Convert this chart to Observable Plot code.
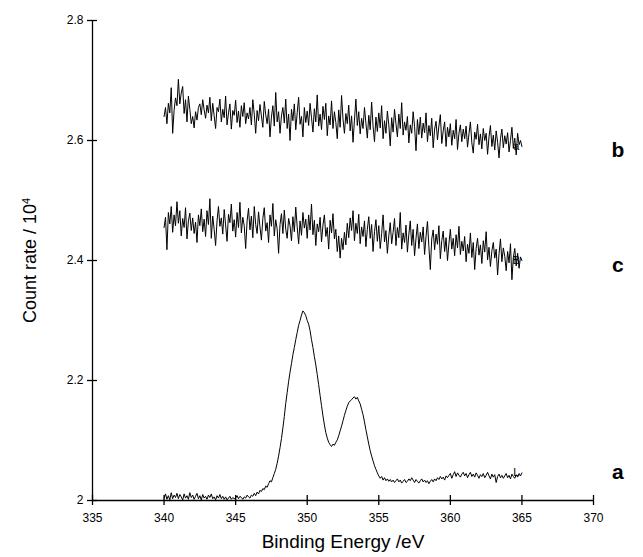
<!DOCTYPE html>
<html>
<head>
<meta charset="utf-8">
<script src="https://cdn.jsdelivr.net/npm/d3@7"></script>
<script src="https://cdn.jsdelivr.net/npm/@observablehq/plot@0.6"></script>
<style>
  html, body { margin: 0; padding: 0; background: #fff; }
</style>
</head>
<body>
<div id="chart"></div>
<script>
// Binding energy grid (eV): 340.0 to 365.0 in 0.1 eV steps
const energyStart = 340;
const energyStep = 0.1;

// Series a (count rate / 10^4)
const seriesA = [
  2.004, 2.011, 2.002, 2.008, 2.001, 2.013, 2.003, 2.009, 2.005, 2.012,
  2.003, 2.010, 2.006, 2.001, 2.011, 2.004, 2.008, 2.002, 2.013, 2.005,
  2.009, 2.002, 2.007, 2.012, 2.003, 2.008, 2.001, 2.010, 2.004, 2.007,
  2.002, 2.009, 2.005, 2.011, 2.003, 2.006, 2.001, 2.008, 2.004, 2.010,
  2.003, 2.007, 2.002, 2.006, 2.001, 2.004, 2.007, 2.002, 2.005, 2.003,
  2.004, 2.008, 2.003, 2.007, 2.005, 2.002, 2.006, 2.004, 2.009, 2.006,
  2.004, 2.009, 2.007, 2.012, 2.008, 2.014, 2.011, 2.017, 2.015, 2.020,
  2.018, 2.024, 2.022, 2.028, 2.033, 2.031, 2.038, 2.045, 2.052, 2.062,
  2.074, 2.088, 2.103, 2.121, 2.140, 2.162, 2.180, 2.198, 2.214, 2.228,
  2.243, 2.255, 2.268, 2.280, 2.292, 2.300, 2.309, 2.316, 2.313, 2.308,
  2.300, 2.294, 2.283, 2.268, 2.255, 2.240, 2.226, 2.210, 2.193, 2.175,
  2.158, 2.141, 2.126, 2.113, 2.104, 2.097, 2.093, 2.090, 2.094, 2.092,
  2.097, 2.101, 2.108, 2.116, 2.124, 2.133, 2.142, 2.150, 2.157, 2.163,
  2.166, 2.168, 2.171, 2.173, 2.169, 2.172, 2.166, 2.161, 2.152, 2.143,
  2.131, 2.118, 2.106, 2.094, 2.083, 2.074, 2.066, 2.058, 2.052, 2.046,
  2.041, 2.037, 2.040, 2.034, 2.038, 2.033, 2.036, 2.032, 2.035, 2.031,
  2.034, 2.030, 2.033, 2.036, 2.031, 2.034, 2.029, 2.032, 2.035, 2.030,
  2.032, 2.036, 2.033, 2.038, 2.034, 2.030, 2.035, 2.032, 2.029, 2.033,
  2.036, 2.031, 2.034, 2.030, 2.033, 2.028, 2.032, 2.035, 2.031, 2.036,
  2.033, 2.038, 2.035, 2.040, 2.036, 2.039, 2.034, 2.041, 2.038, 2.042,
  2.045, 2.037, 2.043, 2.048, 2.040, 2.046, 2.042, 2.039, 2.044, 2.047,
  2.041, 2.045, 2.038, 2.043, 2.047, 2.040, 2.044, 2.039, 2.046, 2.042,
  2.037, 2.043, 2.040, 2.045, 2.038, 2.042, 2.047, 2.041, 2.036, 2.044,
  2.039, 2.043, 2.030, 2.040, 2.044, 2.038, 2.042, 2.037, 2.041, 2.045,
  2.038, 2.042, 2.036, 2.044, 2.040, 2.037, 2.043, 2.039, 2.045, 2.041,
  2.046
];

// Series b
const seriesB = [
  2.640, 2.655, 2.628, 2.662, 2.646, 2.688, 2.612, 2.650, 2.671, 2.658,
  2.702, 2.661, 2.679, 2.690, 2.645, 2.668, 2.631, 2.674, 2.652, 2.628,
  2.640, 2.621, 2.648, 2.634, 2.655, 2.661, 2.643, 2.668, 2.651, 2.637,
  2.659, 2.646, 2.672, 2.633, 2.662, 2.641, 2.620, 2.655, 2.648, 2.669,
  2.631, 2.652, 2.638, 2.674, 2.626, 2.646, 2.661, 2.619, 2.650, 2.642,
  2.667, 2.630, 2.649, 2.622, 2.658, 2.640, 2.663, 2.628, 2.646, 2.636,
  2.655, 2.626, 2.668, 2.644, 2.612, 2.650, 2.633, 2.660, 2.641, 2.622,
  2.665, 2.643, 2.628, 2.652, 2.606, 2.639, 2.658, 2.624, 2.680, 2.631,
  2.648, 2.612, 2.641, 2.655, 2.629, 2.669, 2.620, 2.644, 2.600, 2.652,
  2.633, 2.661, 2.618, 2.646, 2.672, 2.627, 2.640, 2.606, 2.655, 2.630,
  2.649, 2.625, 2.662, 2.638, 2.614, 2.653, 2.631, 2.676, 2.624, 2.644,
  2.618, 2.657, 2.635, 2.662, 2.608, 2.641, 2.626, 2.666, 2.620, 2.648,
  2.630, 2.603, 2.651, 2.622, 2.675, 2.636, 2.612, 2.645, 2.628, 2.659,
  2.616, 2.641, 2.597, 2.634, 2.669, 2.625, 2.648, 2.611, 2.637, 2.620,
  2.655, 2.629, 2.604, 2.642, 2.618, 2.664, 2.624, 2.598, 2.639, 2.615,
  2.646, 2.621, 2.658, 2.603, 2.633, 2.612, 2.649, 2.626, 2.591, 2.638,
  2.614, 2.652, 2.628, 2.606, 2.644, 2.620, 2.663, 2.609, 2.631, 2.617,
  2.640, 2.596, 2.626, 2.612, 2.648, 2.623, 2.583, 2.635, 2.610, 2.639,
  2.604, 2.629, 2.613, 2.646, 2.598, 2.625, 2.608, 2.637, 2.588, 2.619,
  2.632, 2.601, 2.624, 2.643, 2.595, 2.616, 2.631, 2.590, 2.622, 2.606,
  2.628, 2.592, 2.617, 2.603, 2.635, 2.585, 2.612, 2.626, 2.598, 2.619,
  2.603, 2.624, 2.589, 2.611, 2.631, 2.596, 2.579, 2.614, 2.602, 2.627,
  2.593, 2.611, 2.586, 2.620, 2.600, 2.612, 2.577, 2.606, 2.625, 2.590,
  2.609, 2.584, 2.616, 2.597, 2.571, 2.603, 2.619, 2.588, 2.608, 2.594,
  2.613, 2.581, 2.600, 2.622, 2.587, 2.604, 2.576, 2.612, 2.593, 2.600,
  2.590
];

// Series c
const seriesC = [
  2.455, 2.472, 2.418, 2.480, 2.461, 2.490, 2.447, 2.476, 2.458, 2.498,
  2.462, 2.483, 2.441, 2.470, 2.455, 2.488, 2.436, 2.466, 2.479, 2.450,
  2.471, 2.445, 2.464, 2.430, 2.476, 2.458, 2.486, 2.448, 2.469, 2.440,
  2.483, 2.460, 2.503, 2.437, 2.474, 2.452, 2.425, 2.466, 2.490, 2.457,
  2.471, 2.444, 2.485, 2.459, 2.432, 2.477, 2.463, 2.494, 2.449, 2.468,
  2.439, 2.480, 2.455, 2.497, 2.446, 2.472, 2.458, 2.420, 2.466, 2.487,
  2.451, 2.474, 2.438, 2.490, 2.460, 2.445, 2.481, 2.456, 2.434, 2.470,
  2.488, 2.449, 2.463, 2.430, 2.476, 2.457, 2.495, 2.441, 2.468, 2.453,
  2.412, 2.460, 2.478, 2.445, 2.484, 2.452, 2.437, 2.470, 2.458, 2.433,
  2.473, 2.448, 2.489, 2.456, 2.428, 2.466, 2.442, 2.480, 2.454, 2.469,
  2.437, 2.476, 2.451, 2.494, 2.443, 2.467, 2.425, 2.461, 2.448, 2.472,
  2.431, 2.459, 2.476, 2.440, 2.455, 2.419, 2.467, 2.446, 2.478, 2.436,
  2.452, 2.415, 2.441, 2.404, 2.437, 2.418, 2.447, 2.426, 2.462, 2.438,
  2.471, 2.450, 2.483, 2.433, 2.462, 2.445, 2.477, 2.428, 2.456, 2.440,
  2.466, 2.423, 2.452, 2.473, 2.437, 2.460, 2.415, 2.448, 2.468, 2.432,
  2.458, 2.420, 2.445, 2.476, 2.431, 2.450, 2.412, 2.441, 2.463, 2.428,
  2.447, 2.470, 2.425, 2.455, 2.438, 2.480, 2.419, 2.446, 2.430, 2.459,
  2.414, 2.444, 2.466, 2.425, 2.452, 2.408, 2.437, 2.461, 2.420, 2.447,
  2.431, 2.456, 2.410, 2.440, 2.465, 2.423, 2.385, 2.436, 2.451, 2.418,
  2.444, 2.427, 2.458, 2.403, 2.433, 2.449, 2.415, 2.438, 2.400, 2.428,
  2.452, 2.419, 2.437, 2.408, 2.443, 2.421, 2.457, 2.410, 2.432, 2.416,
  2.440, 2.398, 2.427, 2.412, 2.446, 2.405, 2.430, 2.385, 2.420, 2.437,
  2.409, 2.426, 2.395, 2.433, 2.414, 2.448, 2.401, 2.422, 2.390, 2.416,
  2.430, 2.404, 2.419, 2.376, 2.411, 2.436, 2.398, 2.421, 2.407, 2.383,
  2.415, 2.396, 2.428, 2.368, 2.405, 2.420, 2.391, 2.412, 2.387, 2.406,
  2.400
];

const xTicks = [335, 340, 345, 350, 355, 360, 365, 370];
const yTicks = [2, 2.2, 2.4, 2.6, 2.8];
const seriesNames = ["a", "b", "c"];
const seriesLabelLevels = [2.047, 2.583, 2.392];
const endMarkers = ["L", "a", "B"];
const xTitle = "Binding Energy /eV";
const yTitle = "Count rate / 10";

const seriesValues = [seriesA, seriesB, seriesC];
const rows = [];
seriesValues.forEach((vals, s) => {
  vals.forEach((v, i) => {
    rows.push({series: seriesNames[s], energy: +(energyStart + i * energyStep).toFixed(1), count: v});
  });
});
const labelRows = seriesNames.map((n, i) => ({name: n, energy: 371.7, count: seriesLabelLevels[i]}));
const markerRows = seriesNames.map((n, i) => ({
  m: endMarkers[i],
  energy: 364.6,
  count: seriesValues[i][seriesValues[i].length - 1]
}));

const xMin = xTicks[0];
const yMin = yTicks[0];
const font = "'Liberation Sans', Arial, Helvetica, sans-serif";

const chart = Plot.plot({
  width: 643,
  height: 557,
  marginLeft: 92,
  marginRight: 50,
  marginTop: 20,
  marginBottom: 57,
  x: {domain: [335, 370]},
  y: {domain: [2, 2.8]},
  style: {fontFamily: font, background: "#fff", color: "#000"},
  marks: [
    Plot.line(rows, {x: "energy", y: "count", z: "series", stroke: "#000", strokeWidth: 1}),
    Plot.text(markerRows, {x: "energy", y: "count", text: "m", fontSize: 11, fill: "#000", stroke: "none"}),
    // axis lines
    Plot.ruleX([xMin], {stroke: "#000", strokeWidth: 1.3}),
    Plot.ruleY([yMin], {stroke: "#000", strokeWidth: 1.3}),
    // tick marks crossing the axis lines
    Plot.ruleX(xTicks, {y1: yMin, y2: yMin, insetTop: -5, insetBottom: -5, stroke: "#000", strokeWidth: 1.3}),
    Plot.ruleY(yTicks, {x1: xMin, x2: xMin, insetLeft: -5, insetRight: -5, stroke: "#000", strokeWidth: 1.3}),
    // tick labels
    Plot.axisX({ticks: xTicks, tickSize: 0, tickPadding: 13, fontSize: 12, fill: "#000", label: null, tickFormat: d => String(d)}),
    Plot.axisY({ticks: yTicks, tickSize: 0, tickPadding: 9, fontSize: 12, fill: "#000", label: null, tickFormat: d3.format("~g")}),
    // titles
    Plot.text([xTitle], {frameAnchor: "bottom", dy: 47, fontSize: 19, fill: "#000", textAnchor: "middle"}),
    Plot.text([yTitle], {frameAnchor: "left", dx: -62, rotate: -90, fontSize: 18, fill: "#000", textAnchor: "middle"}),
    // series labels
    Plot.text(labelRows, {x: "energy", y: "count", text: "name", fontSize: 21, fontWeight: "bold", fill: "#000"})
  ]
});

document.getElementById("chart").appendChild(chart);

// superscript exponent on the y title
d3.select(chart).selectAll("text").filter(function() { return this.textContent === yTitle; })
  .each(function() {
    const t = d3.select(this);
    t.append("tspan").attr("dy", "-0.55em").attr("font-size", "0.6em").text("4");
  });
</script>
</body>
</html>
